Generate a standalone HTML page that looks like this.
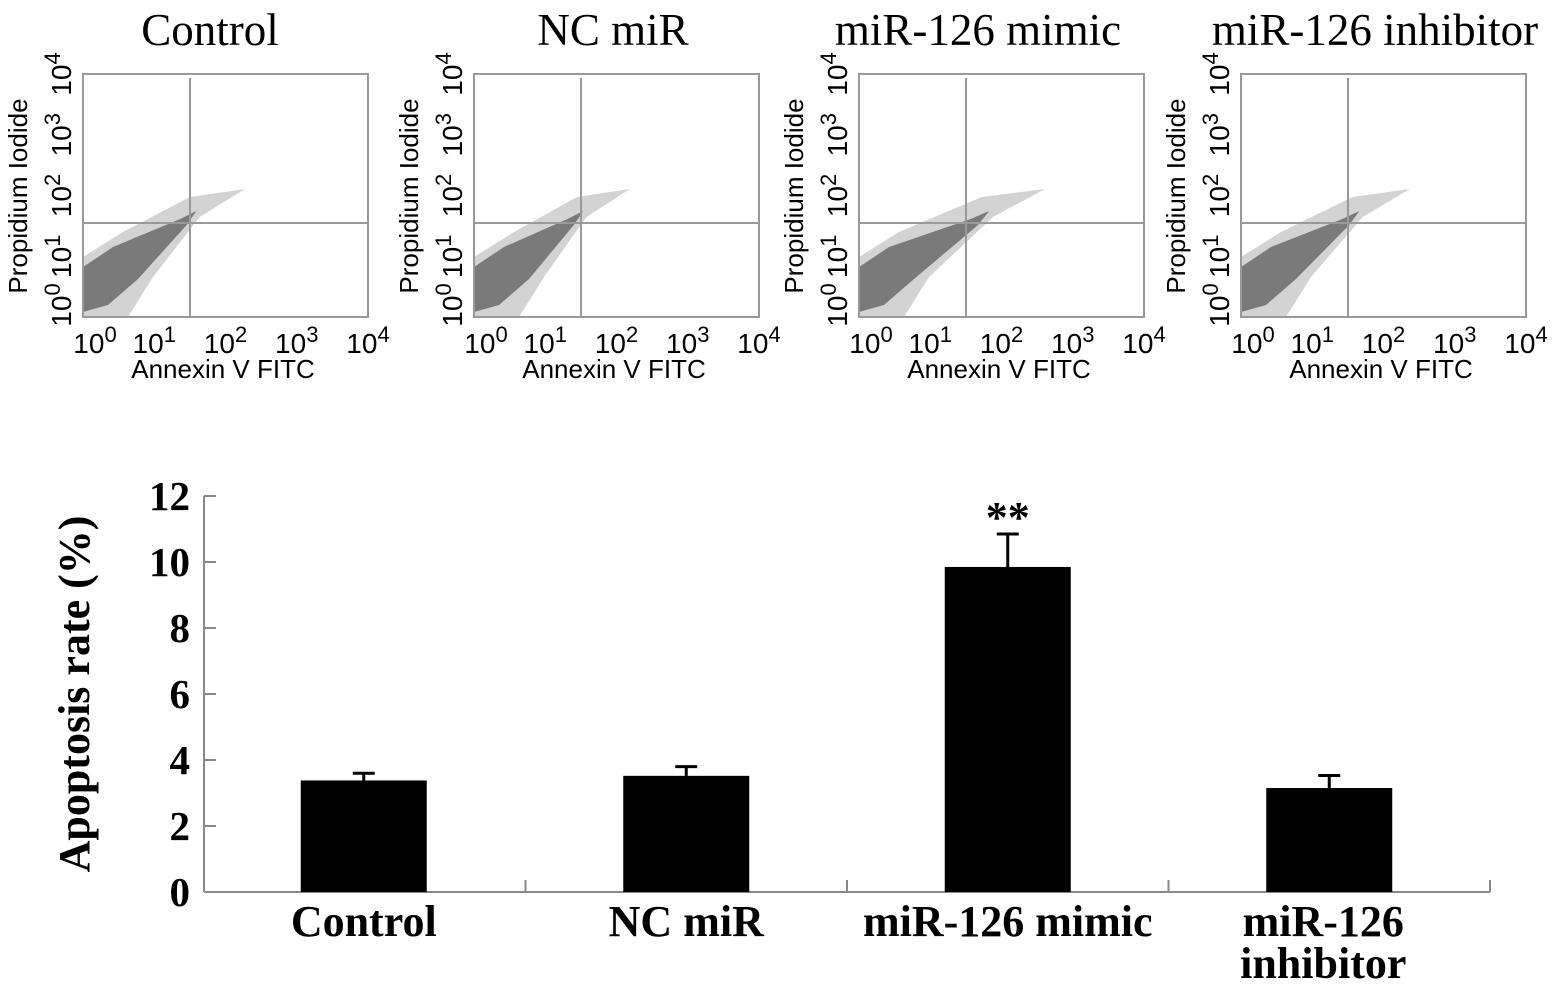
<!DOCTYPE html>
<html><head><meta charset="utf-8"><style>
body{margin:0;background:#fff}
svg{display:block}
</style></head><body>
<svg id="fig" width="1559" height="992" viewBox="0 0 1559 992" xmlns="http://www.w3.org/2000/svg"></svg>
<script>
const panelTitles=["Control","NC miR","miR-126 mimic","miR-126 inhibitor"];
const panelLeft=[83,474,859,1241];
const titleCenter=[210,613,978,1375];
const cloudTip=[162,156,186,169];
const decadeLabels=["0","1","2","3","4"];
const categories=["Control","NC miR","miR-126 mimic","miR-126 inhibitor"];
const values=[3.38,3.52,9.85,3.15];
const errors=[0.22,0.28,1.0,0.38];
const yTicks=[0,2,4,6,8,10,12];
const sigMarks=["","","**",""];

const NS="http://www.w3.org/2000/svg";
const svg=document.getElementById('fig');
function mk(tag,attrs,parent){const e=document.createElementNS(NS,tag);for(const k in attrs)e.setAttribute(k,attrs[k]);(parent||svg).appendChild(e);return e;}

const PT=74,PH=243,PW=285;
panelTitles.forEach((t,i)=>{
  const x0=panelLeft[i];
  const g=mk('g',{});
  
  
  const title=mk('text',{x:titleCenter[i],y:45,'text-anchor':'middle','font-family':'Liberation Serif, serif','font-size':45},g);
  title.textContent=t;
  
  
  const tip=cloudTip[i];
  const B=PT+PH;
  const faint=mk('polygon',{points:`${x0},${B} ${x0},${B-60} ${x0+40},${B-85} ${x0+tip*0.66},${B-120} ${x0+tip},${B-128} ${x0+tip*0.72},${B-100} ${x0+70},${B-40} ${x0+45},${B}`,fill:'#c8c8c8',opacity:0.8},g);
  
  
  const dense=mk('polygon',{points:`${x0},${B-5} ${x0},${B-50} ${x0+30},${B-70} ${x0+tip*0.6},${B-98} ${x0+tip*0.7},${B-106} ${x0+tip*0.64},${B-92} ${x0+55},${B-38} ${x0+25},${B-12}`,fill:'#7a7a7a'},g);
  
  
  const box=mk('rect',{x:x0,y:PT,width:PW,height:PH,fill:'none',stroke:'#999','stroke-width':2},g);
  
  
  const gv=mk('line',{x1:x0+107,y1:PT+4,x2:x0+107,y2:PT+PH,stroke:'#999','stroke-width':2},g);
  
  
  const gh=mk('line',{x1:x0,y1:PT+149,x2:x0+PW,y2:PT+149,stroke:'#999','stroke-width':2},g);
  
  
  decadeLabels.forEach((d,k)=>{
    const xl=mk('text',{x:x0+k*PW/4+(k==0?12:0),y:PT+PH+36,'text-anchor':'middle','font-family':'Liberation Sans, sans-serif','font-size':28},g);
    xl.innerHTML='10<tspan dy="-11" font-size="22">'+d+'</tspan>';
    
    
    const yy=PT+PH-k*PH/4+(k==0?-12:0);
    const yl=mk('text',{x:0,y:0,'text-anchor':'middle','font-family':'Liberation Sans, sans-serif','font-size':28,transform:`translate(${x0-12},${yy}) rotate(-90)`},g);
    yl.innerHTML='10<tspan dy="-11" font-size="22">'+d+'</tspan>';
    
    
  });
  const xt=mk('text',{x:x0+140,y:378,'text-anchor':'middle','font-family':'Liberation Sans, sans-serif','font-size':26},g);
  xt.setAttribute('xml:space','preserve');
  xt.textContent='Annexin V  FITC';
  
  
  const yt=mk('text',{x:0,y:0,'text-anchor':'middle','font-family':'Liberation Sans, sans-serif','font-size':26,transform:`translate(${x0-56},196) rotate(-90)`},g);
  yt.textContent='Propidium Iodide';
  
  
});

const AX=204,Y0=892,YTOP=496,XR=1490,CW=(XR-AX)/4,BW=126;
const ymax=12;
const ys=v=>Y0-(v/ymax)*(Y0-YTOP);
const xc=i=>AX+CW*(i+0.5)-(i==0?1:0);
const bc=mk('g',{});


const ya=mk('line',{x1:AX,y1:YTOP,x2:AX,y2:Y0,stroke:'#888','stroke-width':2},bc);


const xa=mk('line',{x1:AX,y1:Y0,x2:XR,y2:Y0,stroke:'#888','stroke-width':2},bc);


yTicks.forEach(v=>{
  const t=mk('line',{x1:AX,y1:ys(v),x2:AX+12,y2:ys(v),stroke:'#888','stroke-width':2},bc);
  
  
  const l=mk('text',{x:190,y:ys(v)+14,'text-anchor':'end','font-family':'Liberation Serif, serif','font-weight':'bold','font-size':41},bc);
  l.textContent=v;
  
  
});
for(let i=1;i<=4;i++){
  const t=mk('line',{x1:AX+CW*i,y1:Y0,x2:AX+CW*i,y2:Y0-12,stroke:'#888','stroke-width':2},bc);
  
  
}
const yt=mk('text',{x:0,y:0,'text-anchor':'middle','font-family':'Liberation Serif, serif','font-weight':'bold','font-size':44,transform:'translate(89,694) rotate(-90)'},bc);
yt.textContent='Apoptosis rate (%)';


categories.forEach((c,i)=>{
  const cx=xc(i);
  const e=mk('path',{d:`M${cx},${ys(values[i])} V${ys(values[i]+errors[i])} M${cx-11},${ys(values[i]+errors[i])} H${cx+11}`,stroke:'#000','stroke-width':3,fill:'none'},bc);
  
  
  const b=mk('rect',{x:cx-BW/2,y:ys(values[i]),width:BW,height:Y0-ys(values[i]),fill:'#000'},bc);
  
  
  if(sigMarks[i]){
    const s=mk('text',{x:cx,y:ys(values[i]+errors[i])-2,'text-anchor':'middle','font-family':'Liberation Serif, serif','font-weight':'bold','font-size':44},bc);
    s.textContent=sigMarks[i];
    
    
  }
  const words=c=="miR-126 inhibitor"?["miR-126","inhibitor"]:[c];
  words.forEach((w,k)=>{
    const l=mk('text',{x:cx+(i==3?-6:0),y:936+k*42,'text-anchor':'middle','font-family':'Liberation Serif, serif','font-weight':'bold','font-size':44},bc);
    l.textContent=w;
    
    
  });
});
</script>
</body></html>
